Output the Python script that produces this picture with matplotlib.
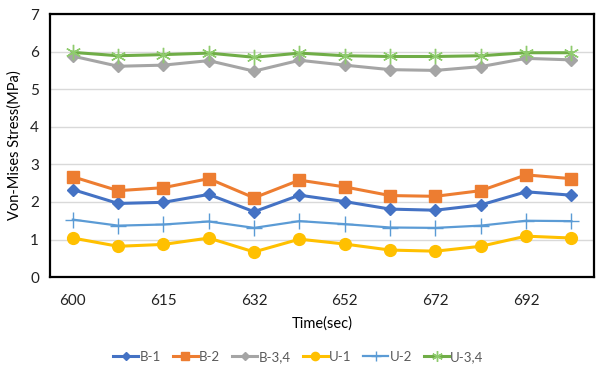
import numpy as np
import matplotlib
matplotlib.use("Agg")
import matplotlib.pyplot as plt

times = ["600", "", "615", "", "632", "", "652", "", "672", "", "692", ""]

b1 = [2.33, 1.96, 1.99, 2.20, 1.74, 2.18, 2.01, 1.81, 1.78, 1.92, 2.27, 2.18]
b2 = [2.67, 2.30, 2.38, 2.62, 2.11, 2.58, 2.40, 2.17, 2.15, 2.30, 2.72, 2.62]
b34 = [5.88, 5.61, 5.64, 5.76, 5.48, 5.77, 5.64, 5.52, 5.50, 5.60, 5.82, 5.78]
u1 = [1.04, 0.82, 0.87, 1.04, 0.67, 1.01, 0.88, 0.72, 0.69, 0.82, 1.09, 1.04]
u2 = [1.53, 1.37, 1.40, 1.48, 1.31, 1.49, 1.41, 1.32, 1.31, 1.37, 1.50, 1.49]
u34 = [5.98, 5.89, 5.92, 5.96, 5.85, 5.96, 5.89, 5.87, 5.87, 5.89, 5.97, 5.97]

plt.rcParams['font.family'] = ['Lato', 'DejaVu Sans']

fig = plt.figure(figsize=(5.97, 3.69), dpi=100)
ax = fig.add_axes([0.084, 0.249, 0.911, 0.713])

x = np.arange(len(times))
ax.plot(x, b1, color="#4472C4", lw=2.2, marker="D", ms=6.5, label="B-1", zorder=3)
ax.plot(x, b2, color="#ED7D31", lw=2.2, marker="s", ms=8, label="B-2", zorder=3)
ax.plot(x, b34, color="#A5A5A5", lw=2.2, marker="D", ms=6.5, label="B-3,4", zorder=3)
ax.plot(x, u1, color="#FFC000", lw=2.2, marker="o", ms=8.5, label="U-1", zorder=3)
ax.plot(x, u2, color="#5B9BD5", lw=1.6, marker="+", ms=11, mew=1.0, label="U-2", zorder=3)
ax.plot(x, u34, color="#70AD47", lw=2.2, marker=(6, 2, 0), ms=11, mew=1.0,
        mec="#8FCB6E", label="U-3,4", zorder=3)

ax.set_xlim(-0.5, len(times) - 0.5)
ax.set_ylim(0, 7)
ax.set_yticks(range(0, 8))
ax.set_xticks(x[::2])
ax.set_xticklabels([t for t in times[::2]])
ax.tick_params(length=0, labelsize=11, colors="#222222")
ax.tick_params(axis="x", pad=12)
ax.tick_params(axis="y", pad=8)
ax.grid(axis="y", color="#D9D9D9", lw=1)
ax.set_axisbelow(True)
for s in ax.spines.values():
    s.set_color("black")
    s.set_linewidth(1.6)

ax.set_xlabel("Time(sec)", fontsize=10.5, labelpad=6)
ax.set_ylabel("Von-Mises Stress(MPa)", fontsize=10.5, labelpad=6)

leg = fig.legend(loc="center", bbox_to_anchor=(0.5, 0.033), ncol=6, frameon=False,
                 fontsize=9.5, handlelength=1.9, handletextpad=0.1, columnspacing=0.9,
                 markerscale=0.7, borderaxespad=0)
for t in leg.get_texts():
    t.set_color("#595959")

fig.savefig("out.png", dpi=100)
